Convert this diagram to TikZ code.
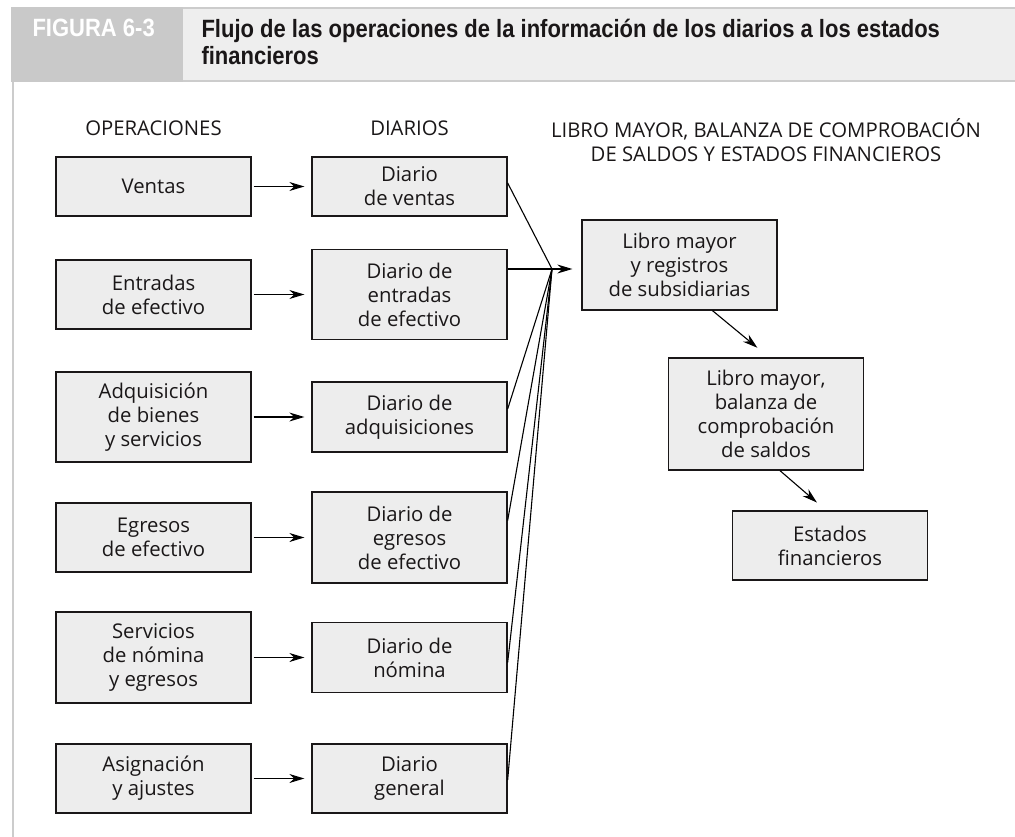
\documentclass[tikz,border=0pt]{standalone}
\usepackage{fontspec}
\setmainfont{Open Sans}
\newfontfamily\headfont{Liberation Sans}[FakeStretch=0.88]
\usetikzlibrary{arrows.meta,positioning}
\definecolor{boxgray}{HTML}{EDEDED}
\definecolor{bandgray}{HTML}{EEEEEE}
\definecolor{tabgray}{HTML}{C9C9C9}
\definecolor{rulegray}{HTML}{CCCCCC}
\definecolor{ink}{HTML}{1A1718}

\begin{document}
\begin{tikzpicture}[x=1pt, y=-1pt, node distance=256pt,
	every node/.style={font=\fontsize{20.3}{24}\selectfont, text=ink},
	box/.style={draw=ink, line width=1.3pt, fill=boxgray, minimum width=195pt, align=center, inner sep=0pt},
	>={Stealth[length=15pt,width=9pt]}, line width=1.1pt]
	\useasboundingbox (0,0) rectangle (1015,837);
	% cabecera
	\fill[tabgray] (11,7) rectangle (183,82);
	\fill[bandgray] (183,9) rectangle (1015,80);
	\draw[rulegray, line width=2pt] (183,8) -- (1015,8) (183,81) -- (1015,81);
	\draw[rulegray, line width=2.5pt] (13,82) -- (13,837);
	\node[anchor=base west, inner sep=0pt, text=white, font={\headfont\bfseries\fontsize{25}{27}\selectfont}] (fig) at (32,37) {FIGURA 6-3};
	\node[anchor=north west, inner sep=0pt, align=left, font={\headfont\bfseries\fontsize{25}{27}\selectfont}] (tit) at (201,19) {Flujo de las operaciones de la información de los diarios a los estados\\financieros};
	% columnas
	\node (hop) at (153.5,128) {OPERACIONES};
	\node (hdi) at (409.5,128) {DIARIOS};
	\node[align=center] (hli) at (766,140) {LIBRO MAYOR, BALANZA DE COMPROBACIÓN\\DE SALDOS Y ESTADOS FINANCIEROS};
	\node[box, minimum height=59pt] (ven) at (153.5,186.5) {Ventas};
	\node[box, minimum height=69pt, node distance=108pt, below of=ven] (ent) {Entradas\\de efectivo};
	\node[box, minimum height=90pt, node distance=122.5pt, below of=ent] (adq) {Adquisición\\de bienes\\y servicios};
	\node[box, minimum height=69pt, node distance=120.5pt, below of=adq] (egr) {Egresos\\de efectivo};
	\node[box, minimum height=91pt, node distance=120pt, below of=egr] (nom) {Servicios\\de nómina\\y egresos};
	\node[box, minimum height=69pt, node distance=121pt, below of=nom] (asg) {Asignación\\y ajustes};
	\node[box, minimum height=59pt, right of=ven] (dven) {Diario\\de ventas};
	\node[box, minimum height=90pt, right of=ent] (dent) {Diario de\\entradas\\de efectivo};
	\node[box, minimum height=70pt, right of=adq] (dadq) {Diario de\\adquisiciones};
	\node[box, minimum height=91pt, right of=egr] (degr) {Diario de\\egresos\\de efectivo};
	\node[box, minimum height=70pt, right of=nom] (dnom) {Diario de\\nómina};
	\node[box, minimum height=69pt, right of=asg] (dgen) {Diario\\general};
	\node[box, minimum height=90pt] (lib) at (679.5,265) {Libro mayor\\y registros\\de subsidiarias};
	\node[box, minimum height=112pt] (bal) at (766,414) {Libro mayor,\\balanza de\\comprobación\\de saldos};
	\node[box, minimum height=69pt] (est) at (830,545.5) {Estados\\financieros};
	\coordinate (C) at (552,269);
	\foreach \a/\b in {ven/dven, ent/dent, adq/dadq, egr/degr, nom/dnom, asg/dgen}
		\draw[->, shorten <=2pt, shorten >=7pt] (\a) -- (\b);
	\draw ([yshift=3.5pt]dven.east) -- (C);
	\draw (dent.east |- C) -- (C);
	\draw ([yshift=8pt]dadq.east) -- (C);
	\draw ([yshift=17pt]degr.east) -- (C);
	\draw ([yshift=-5pt]dnom.east) -- (C);
	\draw ([yshift=-1.5pt]dgen.east) -- (C);
	\draw[->, shorten >=9pt] (C) -- (C -| lib.west);
	\draw[->, shorten >=15pt] ([xshift=33pt]lib.south) -- ([xshift=3pt]bal.north);
	\draw[->, shorten >=12pt] ([xshift=14pt]bal.south) -- ([xshift=-4pt]est.north);
\end{tikzpicture}
\end{document}
